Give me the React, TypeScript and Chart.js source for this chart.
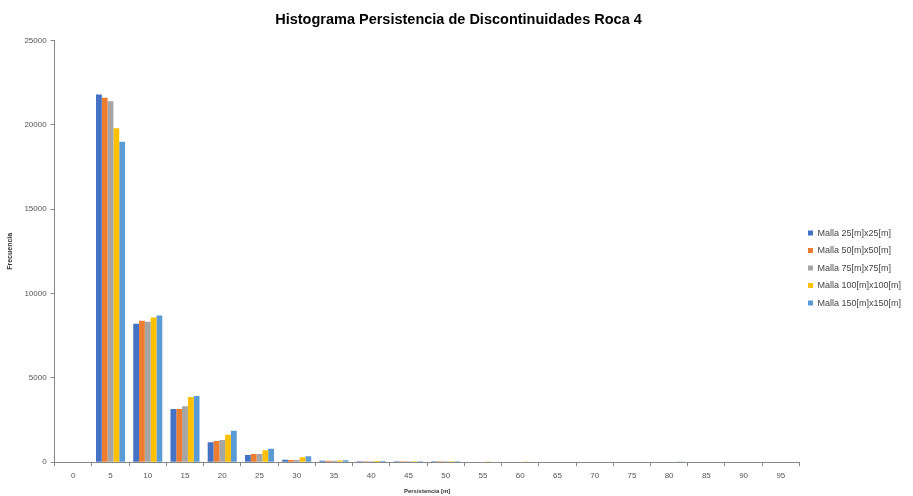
import React, { useEffect, useRef } from "react";
import { Chart, registerables } from "chart.js";

Chart.register(...registerables);

const categories = ["0", "5", "10", "15", "20", "25", "30", "35", "40", "45", "50", "55", "60", "65", "70", "75", "80", "85", "90", "95"];
const malla25 = [0, 21800, 8200, 3150, 1180, 420, 140, 80, 60, 50, 50, 30, 30, 0, 0, 0, 0, 0, 0, 0];
const malla50 = [0, 21600, 8380, 3150, 1250, 480, 130, 80, 60, 50, 50, 30, 30, 0, 0, 0, 0, 0, 0, 0];
const malla75 = [0, 21400, 8330, 3320, 1310, 480, 130, 90, 60, 50, 50, 30, 30, 0, 0, 0, 0, 0, 0, 0];
const malla100 = [0, 19800, 8570, 3870, 1620, 710, 300, 100, 70, 50, 50, 40, 40, 0, 0, 0, 0, 0, 0, 0];
const malla150 = [0, 19000, 8690, 3930, 1860, 790, 360, 120, 70, 50, 50, 30, 30, 30, 0, 0, 40, 0, 0, 0];
const seriesLabels = ["Malla 25[m]x25[m]", "Malla 50[m]x50[m]", "Malla 75[m]x75[m]", "Malla 100[m]x100[m]", "Malla 150[m]x150[m]"];
const colors = ["#4472C4", "#ED7D31", "#A5A5A5", "#FFC000", "#5B9BD5"];

export default function App() {
  const ref = useRef<HTMLCanvasElement | null>(null);
  useEffect(() => {
    document.body.style.margin = "0";
    const series = [malla25, malla50, malla75, malla100, malla150];
    const chart = new Chart(ref.current!, {
      type: "bar",
      data: {
        labels: categories,
        datasets: series.map((d, i) => ({
          label: seriesLabels[i],
          data: d,
          backgroundColor: colors[i],
          borderWidth: 0,
          categoryPercentage: 0.78,
          barPercentage: 1,
        })),
      },
      options: {
        animation: false,
        responsive: false,
        maintainAspectRatio: false,
        layout: { padding: { left: 6, right: 2, top: 0, bottom: 1 } },
        plugins: {
          title: {
            display: true,
            text: "Histograma Persistencia de Discontinuidades Roca 4",
            font: { family: "Liberation Sans", size: 14.5, weight: "bold" },
            color: "#000",
            padding: { top: 11, bottom: 12 },
          },
          legend: {
            position: "right",
            title: { display: true, text: " ", font: { size: 1 }, padding: { top: 20, bottom: 20 } },
            labels: {
              boxWidth: 5,
              boxHeight: 5,
              padding: 8.5,
              font: { family: "Liberation Sans", size: 9 },
              color: "#444",
            },
          },
          tooltip: { enabled: false },
        },
        scales: {
          x: {
            offset: true,
            grid: { offset: true, drawOnChartArea: false, color: "#888", tickLength: 4 },
            border: { color: "#888" },
            ticks: { font: { family: "Liberation Sans", size: 8 }, color: "#555", maxRotation: 0, padding: 5 },
            title: {
              display: true,
              text: "Persistencia [m]",
              font: { family: "Liberation Sans", size: 6, weight: "bold" },
              color: "#333",
              padding: { top: 2, bottom: 0 },
            },
          },
          y: {
            min: 0,
            max: 25000,
            grid: { drawOnChartArea: false, color: "#888", tickLength: 4 },
            border: { color: "#888" },
            ticks: {
              stepSize: 5000,
              font: { family: "Liberation Sans", size: 8 },
              color: "#555",
              padding: 4,
              callback: (v: any) => String(v),
            },
            title: {
              display: true,
              text: "Frecuencia",
              font: { family: "Liberation Sans", size: 7, weight: "bold" },
              color: "#333",
              padding: { top: 0, bottom: 6 },
            },
          },
        },
      },
    });
    return () => chart.destroy();
  }, []);
  return <canvas ref={ref} width={913} height={496} style={{ display: "block" }} />;
}
